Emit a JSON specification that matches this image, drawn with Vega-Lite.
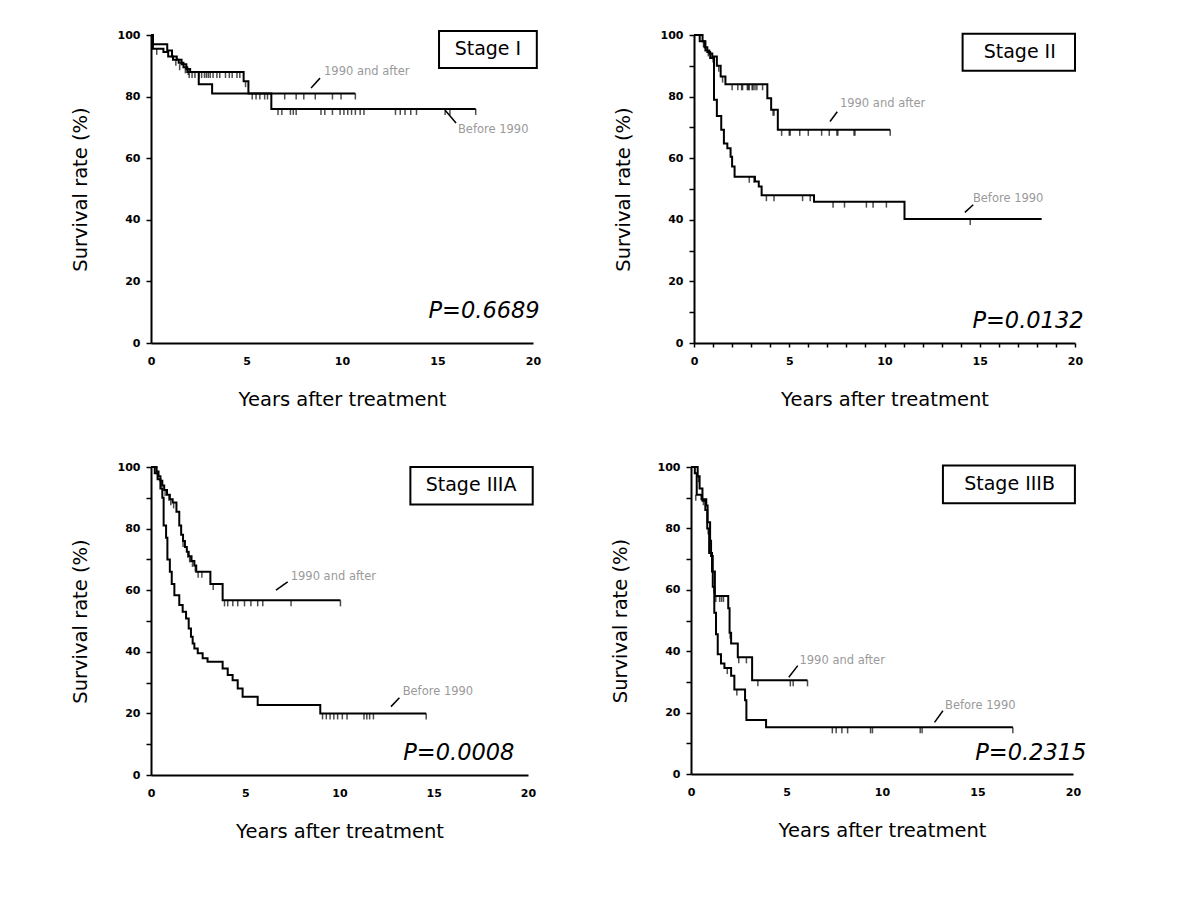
{
  "$schema": "https://vega.github.io/schema/vega-lite/v6.json",
  "background": "white",
  "padding": {"left": 70, "top": 29, "right": 5, "bottom": 5},
  "config": {
    "font": "DejaVu Sans",
    "view": {"stroke": null},
    "axis": {
      "grid": false,
      "domainColor": "black",
      "domainWidth": 2,
      "tickColor": "black",
      "tickWidth": 1.5,
      "labelFont": "DejaVu Sans",
      "labelFontWeight": "bold",
      "labelFontSize": 11,
      "labelColor": "black",
      "labelFlush": false,
      "titleFont": "DejaVu Sans",
      "titleFontSize": 19.5,
      "titleFontWeight": "normal",
      "titleColor": "black"
    }
  },
  "datasets": {
    "curves": [
      {"panel": "I", "group": "after", "t": 0, "s": 100},
      {"panel": "I", "group": "after", "t": 0.1, "s": 95.5},
      {"panel": "I", "group": "after", "t": 0.65, "s": 94.5},
      {"panel": "I", "group": "after", "t": 0.9, "s": 93},
      {"panel": "I", "group": "after", "t": 1.15, "s": 92},
      {"panel": "I", "group": "after", "t": 1.45, "s": 91},
      {"panel": "I", "group": "after", "t": 1.7, "s": 89.5},
      {"panel": "I", "group": "after", "t": 1.9, "s": 88},
      {"panel": "I", "group": "after", "t": 4.85, "s": 85},
      {"panel": "I", "group": "after", "t": 5.1, "s": 81},
      {"panel": "I", "group": "after", "t": 10.7, "s": 81},
      {"panel": "I", "group": "before", "t": 0, "s": 100},
      {"panel": "I", "group": "before", "t": 0.1, "s": 97},
      {"panel": "I", "group": "before", "t": 0.85, "s": 95},
      {"panel": "I", "group": "before", "t": 1.1, "s": 93},
      {"panel": "I", "group": "before", "t": 1.35, "s": 92},
      {"panel": "I", "group": "before", "t": 1.6, "s": 90.5},
      {"panel": "I", "group": "before", "t": 1.85, "s": 89},
      {"panel": "I", "group": "before", "t": 2.05, "s": 88},
      {"panel": "I", "group": "before", "t": 2.5, "s": 84},
      {"panel": "I", "group": "before", "t": 3.2, "s": 81},
      {"panel": "I", "group": "before", "t": 6.3, "s": 76},
      {"panel": "I", "group": "before", "t": 17.0, "s": 76},

      {"panel": "II", "group": "after", "t": 0, "s": 100},
      {"panel": "II", "group": "after", "t": 0.45, "s": 98},
      {"panel": "II", "group": "after", "t": 0.6, "s": 95},
      {"panel": "II", "group": "after", "t": 0.8, "s": 94},
      {"panel": "II", "group": "after", "t": 0.96, "s": 93},
      {"panel": "II", "group": "after", "t": 1.2, "s": 90},
      {"panel": "II", "group": "after", "t": 1.4, "s": 86.5},
      {"panel": "II", "group": "after", "t": 1.65, "s": 84},
      {"panel": "II", "group": "after", "t": 3.85, "s": 79.5},
      {"panel": "II", "group": "after", "t": 4.05, "s": 75.7},
      {"panel": "II", "group": "after", "t": 4.4, "s": 69.2},
      {"panel": "II", "group": "after", "t": 10.3, "s": 69.2},
      {"panel": "II", "group": "before", "t": 0, "s": 100},
      {"panel": "II", "group": "before", "t": 0.3, "s": 98},
      {"panel": "II", "group": "before", "t": 0.55, "s": 96},
      {"panel": "II", "group": "before", "t": 0.7, "s": 94.5},
      {"panel": "II", "group": "before", "t": 0.85, "s": 92.5},
      {"panel": "II", "group": "before", "t": 1.05, "s": 79},
      {"panel": "II", "group": "before", "t": 1.2, "s": 73.7},
      {"panel": "II", "group": "before", "t": 1.43, "s": 69.2},
      {"panel": "II", "group": "before", "t": 1.57, "s": 64.8},
      {"panel": "II", "group": "before", "t": 1.75, "s": 63.2},
      {"panel": "II", "group": "before", "t": 1.92, "s": 60.5},
      {"panel": "II", "group": "before", "t": 2.0, "s": 57.3},
      {"panel": "II", "group": "before", "t": 2.13, "s": 54},
      {"panel": "II", "group": "before", "t": 3.2, "s": 52.4},
      {"panel": "II", "group": "before", "t": 3.4, "s": 50.8},
      {"panel": "II", "group": "before", "t": 3.55, "s": 48},
      {"panel": "II", "group": "before", "t": 6.3, "s": 45.9},
      {"panel": "II", "group": "before", "t": 11.05, "s": 40.3},
      {"panel": "II", "group": "before", "t": 18.25, "s": 40.3},

      {"panel": "IIIA", "group": "after", "t": 0, "s": 100},
      {"panel": "IIIA", "group": "after", "t": 0.3, "s": 98.5},
      {"panel": "IIIA", "group": "after", "t": 0.4, "s": 97},
      {"panel": "IIIA", "group": "after", "t": 0.5, "s": 95.5},
      {"panel": "IIIA", "group": "after", "t": 0.6, "s": 94},
      {"panel": "IIIA", "group": "after", "t": 0.7, "s": 92.5},
      {"panel": "IIIA", "group": "after", "t": 0.85, "s": 91},
      {"panel": "IIIA", "group": "after", "t": 1.0, "s": 89.5},
      {"panel": "IIIA", "group": "after", "t": 1.15, "s": 88.5},
      {"panel": "IIIA", "group": "after", "t": 1.35, "s": 85.5},
      {"panel": "IIIA", "group": "after", "t": 1.5, "s": 81},
      {"panel": "IIIA", "group": "after", "t": 1.6, "s": 78},
      {"panel": "IIIA", "group": "after", "t": 1.7, "s": 76},
      {"panel": "IIIA", "group": "after", "t": 1.8, "s": 74},
      {"panel": "IIIA", "group": "after", "t": 1.9, "s": 72.5},
      {"panel": "IIIA", "group": "after", "t": 2.0, "s": 71},
      {"panel": "IIIA", "group": "after", "t": 2.15, "s": 69.5},
      {"panel": "IIIA", "group": "after", "t": 2.3, "s": 68},
      {"panel": "IIIA", "group": "after", "t": 2.4, "s": 66},
      {"panel": "IIIA", "group": "after", "t": 3.15, "s": 62},
      {"panel": "IIIA", "group": "after", "t": 3.8, "s": 56.7},
      {"panel": "IIIA", "group": "after", "t": 10.05, "s": 56.7},
      {"panel": "IIIA", "group": "before", "t": 0, "s": 100},
      {"panel": "IIIA", "group": "before", "t": 0.2, "s": 98},
      {"panel": "IIIA", "group": "before", "t": 0.35, "s": 96},
      {"panel": "IIIA", "group": "before", "t": 0.5, "s": 93},
      {"panel": "IIIA", "group": "before", "t": 0.6, "s": 90},
      {"panel": "IIIA", "group": "before", "t": 0.67, "s": 81},
      {"panel": "IIIA", "group": "before", "t": 0.8, "s": 77},
      {"panel": "IIIA", "group": "before", "t": 0.87, "s": 70},
      {"panel": "IIIA", "group": "before", "t": 1.0, "s": 66},
      {"panel": "IIIA", "group": "before", "t": 1.1, "s": 62},
      {"panel": "IIIA", "group": "before", "t": 1.24, "s": 58.4},
      {"panel": "IIIA", "group": "before", "t": 1.5, "s": 55.2},
      {"panel": "IIIA", "group": "before", "t": 1.68, "s": 53},
      {"panel": "IIIA", "group": "before", "t": 1.86, "s": 50.8},
      {"panel": "IIIA", "group": "before", "t": 2.0, "s": 47.6},
      {"panel": "IIIA", "group": "before", "t": 2.12, "s": 44.9},
      {"panel": "IIIA", "group": "before", "t": 2.21, "s": 42.7},
      {"panel": "IIIA", "group": "before", "t": 2.3, "s": 41.1},
      {"panel": "IIIA", "group": "before", "t": 2.48, "s": 39.5},
      {"panel": "IIIA", "group": "before", "t": 2.74, "s": 37.9},
      {"panel": "IIIA", "group": "before", "t": 3.0, "s": 36.8},
      {"panel": "IIIA", "group": "before", "t": 3.8, "s": 34.6},
      {"panel": "IIIA", "group": "before", "t": 4.07, "s": 32.5},
      {"panel": "IIIA", "group": "before", "t": 4.33, "s": 30.8},
      {"panel": "IIIA", "group": "before", "t": 4.6, "s": 28.1},
      {"panel": "IIIA", "group": "before", "t": 4.86, "s": 25.4},
      {"panel": "IIIA", "group": "before", "t": 5.66, "s": 22.7},
      {"panel": "IIIA", "group": "before", "t": 8.98, "s": 20},
      {"panel": "IIIA", "group": "before", "t": 14.6, "s": 20},

      {"panel": "IIIB", "group": "after", "t": 0, "s": 100},
      {"panel": "IIIB", "group": "after", "t": 0.35, "s": 97},
      {"panel": "IIIB", "group": "after", "t": 0.45, "s": 93},
      {"panel": "IIIB", "group": "after", "t": 0.6, "s": 89},
      {"panel": "IIIB", "group": "after", "t": 0.75, "s": 86},
      {"panel": "IIIB", "group": "after", "t": 0.85, "s": 80},
      {"panel": "IIIB", "group": "after", "t": 0.95, "s": 72},
      {"panel": "IIIB", "group": "after", "t": 1.1, "s": 66},
      {"panel": "IIIB", "group": "after", "t": 1.25, "s": 58},
      {"panel": "IIIB", "group": "after", "t": 1.95, "s": 54},
      {"panel": "IIIB", "group": "after", "t": 2.02, "s": 46},
      {"panel": "IIIB", "group": "after", "t": 2.1, "s": 42.5},
      {"panel": "IIIB", "group": "after", "t": 2.45, "s": 38},
      {"panel": "IIIB", "group": "after", "t": 3.2, "s": 30.5},
      {"panel": "IIIB", "group": "after", "t": 6.1, "s": 30.5},
      {"panel": "IIIB", "group": "before", "t": 0, "s": 100},
      {"panel": "IIIB", "group": "before", "t": 0.2, "s": 98},
      {"panel": "IIIB", "group": "before", "t": 0.3, "s": 91},
      {"panel": "IIIB", "group": "before", "t": 0.55, "s": 89.5},
      {"panel": "IIIB", "group": "before", "t": 0.8, "s": 87.5},
      {"panel": "IIIB", "group": "before", "t": 0.87, "s": 82},
      {"panel": "IIIB", "group": "before", "t": 1.0, "s": 76},
      {"panel": "IIIB", "group": "before", "t": 1.05, "s": 71},
      {"panel": "IIIB", "group": "before", "t": 1.14, "s": 61},
      {"panel": "IIIB", "group": "before", "t": 1.22, "s": 52.5},
      {"panel": "IIIB", "group": "before", "t": 1.31, "s": 45.5},
      {"panel": "IIIB", "group": "before", "t": 1.4, "s": 39},
      {"panel": "IIIB", "group": "before", "t": 1.57, "s": 36},
      {"panel": "IIIB", "group": "before", "t": 1.75, "s": 34.5},
      {"panel": "IIIB", "group": "before", "t": 2.1, "s": 32},
      {"panel": "IIIB", "group": "before", "t": 2.27, "s": 27.5},
      {"panel": "IIIB", "group": "before", "t": 2.83, "s": 24},
      {"panel": "IIIB", "group": "before", "t": 2.9, "s": 17.6},
      {"panel": "IIIB", "group": "before", "t": 3.93, "s": 15.2},
      {"panel": "IIIB", "group": "before", "t": 16.85, "s": 15.2}
    ],
    "censors": [
      {"panel": "I", "t": 0.3, "s": 95.5},
      {"panel": "I", "t": 1.3, "s": 92},
      {"panel": "I", "t": 1.8, "s": 89.5},
      {"panel": "I", "t": 2.0, "s": 88},
      {"panel": "I", "t": 2.15, "s": 88},
      {"panel": "I", "t": 2.3, "s": 88},
      {"panel": "I", "t": 2.5, "s": 88},
      {"panel": "I", "t": 2.65, "s": 88},
      {"panel": "I", "t": 2.8, "s": 88},
      {"panel": "I", "t": 2.9, "s": 88},
      {"panel": "I", "t": 3.0, "s": 88},
      {"panel": "I", "t": 3.1, "s": 88},
      {"panel": "I", "t": 3.25, "s": 88},
      {"panel": "I", "t": 3.45, "s": 88},
      {"panel": "I", "t": 3.6, "s": 88},
      {"panel": "I", "t": 3.9, "s": 88},
      {"panel": "I", "t": 4.1, "s": 88},
      {"panel": "I", "t": 4.25, "s": 88},
      {"panel": "I", "t": 4.5, "s": 88},
      {"panel": "I", "t": 4.65, "s": 88},
      {"panel": "I", "t": 4.95, "s": 85},
      {"panel": "I", "t": 5.3, "s": 81},
      {"panel": "I", "t": 5.5, "s": 81},
      {"panel": "I", "t": 5.7, "s": 81},
      {"panel": "I", "t": 5.95, "s": 81},
      {"panel": "I", "t": 6.1, "s": 81},
      {"panel": "I", "t": 7.0, "s": 81},
      {"panel": "I", "t": 7.6, "s": 81},
      {"panel": "I", "t": 8.0, "s": 81},
      {"panel": "I", "t": 8.6, "s": 81},
      {"panel": "I", "t": 9.5, "s": 81},
      {"panel": "I", "t": 9.95, "s": 81},
      {"panel": "I", "t": 10.7, "s": 81},
      {"panel": "I", "t": 1.5, "s": 90.5},
      {"panel": "I", "t": 1.95, "s": 89},
      {"panel": "I", "t": 6.65, "s": 76},
      {"panel": "I", "t": 6.85, "s": 76},
      {"panel": "I", "t": 7.3, "s": 76},
      {"panel": "I", "t": 7.45, "s": 76},
      {"panel": "I", "t": 7.6, "s": 76},
      {"panel": "I", "t": 8.9, "s": 76},
      {"panel": "I", "t": 9.1, "s": 76},
      {"panel": "I", "t": 9.5, "s": 76},
      {"panel": "I", "t": 9.9, "s": 76},
      {"panel": "I", "t": 10.1, "s": 76},
      {"panel": "I", "t": 10.3, "s": 76},
      {"panel": "I", "t": 10.5, "s": 76},
      {"panel": "I", "t": 10.7, "s": 76},
      {"panel": "I", "t": 10.95, "s": 76},
      {"panel": "I", "t": 11.15, "s": 76},
      {"panel": "I", "t": 12.8, "s": 76},
      {"panel": "I", "t": 13.05, "s": 76},
      {"panel": "I", "t": 13.3, "s": 76},
      {"panel": "I", "t": 13.6, "s": 76},
      {"panel": "I", "t": 13.9, "s": 76},
      {"panel": "I", "t": 15.4, "s": 76},
      {"panel": "I", "t": 15.65, "s": 76},
      {"panel": "I", "t": 17.0, "s": 76},

      {"panel": "II", "t": 0.5, "s": 98},
      {"panel": "II", "t": 0.75, "s": 95},
      {"panel": "II", "t": 1.0, "s": 93},
      {"panel": "II", "t": 1.3, "s": 90},
      {"panel": "II", "t": 1.5, "s": 86.5},
      {"panel": "II", "t": 2.0, "s": 84},
      {"panel": "II", "t": 2.3, "s": 84},
      {"panel": "II", "t": 2.5, "s": 84},
      {"panel": "II", "t": 2.55, "s": 84},
      {"panel": "II", "t": 2.8, "s": 84},
      {"panel": "II", "t": 2.85, "s": 84},
      {"panel": "II", "t": 2.9, "s": 84},
      {"panel": "II", "t": 3.05, "s": 84},
      {"panel": "II", "t": 3.1, "s": 84},
      {"panel": "II", "t": 3.2, "s": 84},
      {"panel": "II", "t": 3.3, "s": 84},
      {"panel": "II", "t": 3.6, "s": 84},
      {"panel": "II", "t": 4.15, "s": 75.7},
      {"panel": "II", "t": 4.2, "s": 75.7},
      {"panel": "II", "t": 4.6, "s": 69.2},
      {"panel": "II", "t": 5.0, "s": 69.2},
      {"panel": "II", "t": 5.05, "s": 69.2},
      {"panel": "II", "t": 5.55, "s": 69.2},
      {"panel": "II", "t": 6.0, "s": 69.2},
      {"panel": "II", "t": 6.7, "s": 69.2},
      {"panel": "II", "t": 7.1, "s": 69.2},
      {"panel": "II", "t": 7.5, "s": 69.2},
      {"panel": "II", "t": 7.55, "s": 69.2},
      {"panel": "II", "t": 8.4, "s": 69.2},
      {"panel": "II", "t": 8.45, "s": 69.2},
      {"panel": "II", "t": 10.3, "s": 69.2},
      {"panel": "II", "t": 2.9, "s": 54},
      {"panel": "II", "t": 3.15, "s": 54},
      {"panel": "II", "t": 3.8, "s": 48},
      {"panel": "II", "t": 4.2, "s": 48},
      {"panel": "II", "t": 5.7, "s": 48},
      {"panel": "II", "t": 6.1, "s": 48},
      {"panel": "II", "t": 7.3, "s": 45.9},
      {"panel": "II", "t": 7.9, "s": 45.9},
      {"panel": "II", "t": 9.05, "s": 45.9},
      {"panel": "II", "t": 9.4, "s": 45.9},
      {"panel": "II", "t": 10.1, "s": 45.9},
      {"panel": "II", "t": 14.5, "s": 40.3},

      {"panel": "IIIA", "t": 0.35, "s": 98.5},
      {"panel": "IIIA", "t": 0.55, "s": 95.5},
      {"panel": "IIIA", "t": 0.75, "s": 92.5},
      {"panel": "IIIA", "t": 0.95, "s": 91},
      {"panel": "IIIA", "t": 1.05, "s": 89.5},
      {"panel": "IIIA", "t": 1.2, "s": 88.5},
      {"panel": "IIIA", "t": 1.7, "s": 76},
      {"panel": "IIIA", "t": 1.95, "s": 72.5},
      {"panel": "IIIA", "t": 2.05, "s": 71},
      {"panel": "IIIA", "t": 2.1, "s": 71},
      {"panel": "IIIA", "t": 2.2, "s": 69.5},
      {"panel": "IIIA", "t": 2.35, "s": 68},
      {"panel": "IIIA", "t": 2.5, "s": 66},
      {"panel": "IIIA", "t": 2.7, "s": 66},
      {"panel": "IIIA", "t": 3.3, "s": 62},
      {"panel": "IIIA", "t": 3.9, "s": 56.7},
      {"panel": "IIIA", "t": 4.07, "s": 56.7},
      {"panel": "IIIA", "t": 4.34, "s": 56.7},
      {"panel": "IIIA", "t": 4.6, "s": 56.7},
      {"panel": "IIIA", "t": 4.96, "s": 56.7},
      {"panel": "IIIA", "t": 5.3, "s": 56.7},
      {"panel": "IIIA", "t": 5.66, "s": 56.7},
      {"panel": "IIIA", "t": 5.93, "s": 56.7},
      {"panel": "IIIA", "t": 7.43, "s": 56.7},
      {"panel": "IIIA", "t": 10.05, "s": 56.7},
      {"panel": "IIIA", "t": 9.1, "s": 20},
      {"panel": "IIIA", "t": 9.3, "s": 20},
      {"panel": "IIIA", "t": 9.5, "s": 20},
      {"panel": "IIIA", "t": 9.7, "s": 20},
      {"panel": "IIIA", "t": 9.9, "s": 20},
      {"panel": "IIIA", "t": 10.15, "s": 20},
      {"panel": "IIIA", "t": 10.4, "s": 20},
      {"panel": "IIIA", "t": 11.3, "s": 20},
      {"panel": "IIIA", "t": 11.45, "s": 20},
      {"panel": "IIIA", "t": 11.6, "s": 20},
      {"panel": "IIIA", "t": 11.8, "s": 20},
      {"panel": "IIIA", "t": 14.6, "s": 20},

      {"panel": "IIIB", "t": 0.4, "s": 97},
      {"panel": "IIIB", "t": 0.9, "s": 80},
      {"panel": "IIIB", "t": 1.3, "s": 58},
      {"panel": "IIIB", "t": 1.5, "s": 58},
      {"panel": "IIIB", "t": 1.6, "s": 58},
      {"panel": "IIIB", "t": 1.7, "s": 58},
      {"panel": "IIIB", "t": 2.05, "s": 46},
      {"panel": "IIIB", "t": 2.5, "s": 38},
      {"panel": "IIIB", "t": 2.9, "s": 38},
      {"panel": "IIIB", "t": 3.5, "s": 30.5},
      {"panel": "IIIB", "t": 5.2, "s": 30.5},
      {"panel": "IIIB", "t": 5.35, "s": 30.5},
      {"panel": "IIIB", "t": 6.1, "s": 30.5},
      {"panel": "IIIB", "t": 0.25, "s": 91},
      {"panel": "IIIB", "t": 0.65, "s": 89.5},
      {"panel": "IIIB", "t": 1.1, "s": 71},
      {"panel": "IIIB", "t": 1.2, "s": 61},
      {"panel": "IIIB", "t": 1.9, "s": 34.5},
      {"panel": "IIIB", "t": 2.4, "s": 27.5},
      {"panel": "IIIB", "t": 7.4, "s": 15.2},
      {"panel": "IIIB", "t": 7.6, "s": 15.2},
      {"panel": "IIIB", "t": 7.9, "s": 15.2},
      {"panel": "IIIB", "t": 8.2, "s": 15.2},
      {"panel": "IIIB", "t": 9.4, "s": 15.2},
      {"panel": "IIIB", "t": 9.5, "s": 15.2},
      {"panel": "IIIB", "t": 12.0, "s": 15.2},
      {"panel": "IIIB", "t": 12.1, "s": 15.2},
      {"panel": "IIIB", "t": 16.85, "s": 15.2}
    ],
    "notes": [
      {"panel": "I", "kind": "box", "label": "", "t": 15.08, "s": 101.3, "t2": 20.2, "s2": 89.3},
      {"panel": "I", "kind": "stage", "label": "Stage I", "t": 17.64, "s": 95.3},
      {"panel": "I", "kind": "p", "label": "P=0.6689", "t": 20.35, "s": 10.4},
      {"panel": "I", "kind": "lbl", "label": "1990 and after", "t": 9.06, "s": 88},
      {"panel": "I", "kind": "lbl", "label": "Before 1990", "t": 16.07, "s": 69},
      {"panel": "I", "kind": "leader", "label": "", "t": 8.38, "s": 82.8, "t2": 8.85, "s2": 86},
      {"panel": "I", "kind": "leader", "label": "", "t": 15.4, "s": 75.6, "t2": 15.97, "s2": 71.4},

      {"panel": "II", "kind": "box", "label": "", "t": 14.1, "s": 100.4, "t2": 20.0, "s2": 88.4},
      {"panel": "II", "kind": "stage", "label": "Stage II", "t": 17.1, "s": 94.5},
      {"panel": "II", "kind": "p", "label": "P=0.0132", "t": 20.45, "s": 7.0},
      {"panel": "II", "kind": "lbl", "label": "1990 and after", "t": 7.66, "s": 77.6},
      {"panel": "II", "kind": "lbl", "label": "Before 1990", "t": 14.64, "s": 46.7},
      {"panel": "II", "kind": "leader", "label": "", "t": 7.14, "s": 71.9, "t2": 7.52, "s2": 75.1},
      {"panel": "II", "kind": "leader", "label": "", "t": 14.22, "s": 42.4, "t2": 14.66, "s2": 44.9},

      {"panel": "IIIA", "kind": "box", "label": "", "t": 13.76, "s": 100, "t2": 20.25, "s2": 87.8},
      {"panel": "IIIA", "kind": "stage", "label": "Stage IIIA", "t": 16.98, "s": 94},
      {"panel": "IIIA", "kind": "p", "label": "P=0.0008", "t": 19.28, "s": 7.0},
      {"panel": "IIIA", "kind": "lbl", "label": "1990 and after", "t": 7.41, "s": 64.3},
      {"panel": "IIIA", "kind": "lbl", "label": "Before 1990", "t": 13.35, "s": 27},
      {"panel": "IIIA", "kind": "leader", "label": "", "t": 6.63, "s": 60, "t2": 7.25, "s2": 62.7},
      {"panel": "IIIA", "kind": "leader", "label": "", "t": 12.73, "s": 22.2, "t2": 13.18, "s2": 25.1},

      {"panel": "IIIB", "kind": "box", "label": "", "t": 13.19, "s": 100.5, "t2": 20.1, "s2": 88.2},
      {"panel": "IIIB", "kind": "stage", "label": "Stage IIIB", "t": 16.68, "s": 94.5},
      {"panel": "IIIB", "kind": "p", "label": "P=0.2315", "t": 20.7, "s": 7.0},
      {"panel": "IIIB", "kind": "lbl", "label": "1990 and after", "t": 5.68, "s": 36.7},
      {"panel": "IIIB", "kind": "lbl", "label": "Before 1990", "t": 13.3, "s": 22.3},
      {"panel": "IIIB", "kind": "leader", "label": "", "t": 5.12, "s": 31.5, "t2": 5.59, "s2": 35.3},
      {"panel": "IIIB", "kind": "leader", "label": "", "t": 12.75, "s": 16.8, "t2": 13.19, "s2": 20.6}
    ]
  },
  "spacing": 52,
  "vconcat": [
    {
      "bounds": "flush",
      "spacing": 161,
      "hconcat": [
        {
          "width": 382, "height": 308,
          "encoding": {
            "x": {"field": "t", "type": "quantitative", "scale": {"domain": [0, 20], "nice": false},
                  "axis": {"title": "Years after treatment", "values": [0, 5, 10, 15, 20], "tickSize": 0, "labelPadding": 12, "titlePadding": 24}},
            "y": {"field": "s", "type": "quantitative", "scale": {"domain": [0, 100], "nice": false},
                  "axis": {"title": "Survival rate (%)", "values": [0, 20, 40, 60, 80, 100], "tickSize": 5, "labelPadding": 6, "titlePadding": 27}}
          },
          "layer": [
            {"data": {"name": "curves"}, "transform": [{"filter": "datum.panel == 'I'"}],
             "mark": {"type": "line", "interpolate": "step-after", "color": "black", "strokeWidth": 2},
             "encoding": {"detail": {"field": "group"}}},
            {"data": {"name": "censors"}, "transform": [{"filter": "datum.panel == 'I'"}],
             "mark": {"type": "tick", "orient": "vertical", "size": 6, "thickness": 1.5, "color": "black", "yOffset": 3}},
            {"data": {"name": "notes"}, "transform": [{"filter": "datum.panel == 'I' && datum.kind == 'box'"}],
             "mark": {"type": "rect", "fill": "white", "stroke": "black", "strokeWidth": 2},
             "encoding": {"x2": {"field": "t2"}, "y2": {"field": "s2"}}},
            {"data": {"name": "notes"}, "transform": [{"filter": "datum.panel == 'I' && datum.kind == 'leader'"}],
             "mark": {"type": "rule", "color": "black", "strokeWidth": 1.5},
             "encoding": {"x2": {"field": "t2"}, "y2": {"field": "s2"}}},
            {"data": {"name": "notes"}, "transform": [{"filter": "datum.panel == 'I' && datum.kind == 'stage'"}],
             "mark": {"type": "text", "align": "center", "baseline": "middle", "fontSize": 19, "color": "black"},
             "encoding": {"text": {"field": "label"}}},
            {"data": {"name": "notes"}, "transform": [{"filter": "datum.panel == 'I' && datum.kind == 'p'"}],
             "mark": {"type": "text", "align": "right", "baseline": "middle", "fontSize": 22.5, "fontStyle": "italic", "color": "black"},
             "encoding": {"text": {"field": "label"}}},
            {"data": {"name": "notes"}, "transform": [{"filter": "datum.panel == 'I' && datum.kind == 'lbl'"}],
             "mark": {"type": "text", "align": "left", "baseline": "middle", "fontSize": 11.5, "color": "#9a9a9a"},
             "encoding": {"text": {"field": "label"}}}
          ]
        },
        {
          "width": 381, "height": 308,
          "encoding": {
            "x": {"field": "t", "type": "quantitative", "scale": {"domain": [0, 20], "nice": false},
                  "axis": {"title": "Years after treatment", "values": [0, 1, 2, 3, 4, 5, 6, 7, 8, 9, 10, 11, 12, 13, 14, 15, 16, 17, 18, 19, 20], "labelExpr": "datum.value % 5 == 0 ? datum.label : ''", "tickSize": 4, "labelPadding": 8, "titlePadding": 24}},
            "y": {"field": "s", "type": "quantitative", "scale": {"domain": [0, 100], "nice": false},
                  "axis": {"title": "Survival rate (%)", "values": [0, 10, 20, 30, 40, 50, 60, 70, 80, 90, 100], "labelExpr": "datum.value % 20 == 0 ? datum.label : ''", "tickSize": 5, "labelPadding": 6, "titlePadding": 27}}
          },
          "layer": [
            {"data": {"name": "curves"}, "transform": [{"filter": "datum.panel == 'II'"}],
             "mark": {"type": "line", "interpolate": "step-after", "color": "black", "strokeWidth": 2},
             "encoding": {"detail": {"field": "group"}}},
            {"data": {"name": "censors"}, "transform": [{"filter": "datum.panel == 'II'"}],
             "mark": {"type": "tick", "orient": "vertical", "size": 6, "thickness": 1.5, "color": "black", "yOffset": 3}},
            {"data": {"name": "notes"}, "transform": [{"filter": "datum.panel == 'II' && datum.kind == 'box'"}],
             "mark": {"type": "rect", "fill": "white", "stroke": "black", "strokeWidth": 2},
             "encoding": {"x2": {"field": "t2"}, "y2": {"field": "s2"}}},
            {"data": {"name": "notes"}, "transform": [{"filter": "datum.panel == 'II' && datum.kind == 'leader'"}],
             "mark": {"type": "rule", "color": "black", "strokeWidth": 1.5},
             "encoding": {"x2": {"field": "t2"}, "y2": {"field": "s2"}}},
            {"data": {"name": "notes"}, "transform": [{"filter": "datum.panel == 'II' && datum.kind == 'stage'"}],
             "mark": {"type": "text", "align": "center", "baseline": "middle", "fontSize": 19, "color": "black"},
             "encoding": {"text": {"field": "label"}}},
            {"data": {"name": "notes"}, "transform": [{"filter": "datum.panel == 'II' && datum.kind == 'p'"}],
             "mark": {"type": "text", "align": "right", "baseline": "middle", "fontSize": 22.5, "fontStyle": "italic", "color": "black"},
             "encoding": {"text": {"field": "label"}}},
            {"data": {"name": "notes"}, "transform": [{"filter": "datum.panel == 'II' && datum.kind == 'lbl'"}],
             "mark": {"type": "text", "align": "left", "baseline": "middle", "fontSize": 11.5, "color": "#9a9a9a"},
             "encoding": {"text": {"field": "label"}}}
          ]
        }
      ]
    },
    {
      "bounds": "flush",
      "spacing": 163,
      "hconcat": [
        {
          "width": 377, "height": 308,
          "encoding": {
            "x": {"field": "t", "type": "quantitative", "scale": {"domain": [0, 20], "nice": false},
                  "axis": {"title": "Years after treatment", "values": [0, 5, 10, 15, 20], "tickSize": 0, "labelPadding": 12, "titlePadding": 24}},
            "y": {"field": "s", "type": "quantitative", "scale": {"domain": [0, 100], "nice": false},
                  "axis": {"title": "Survival rate (%)", "values": [0, 10, 20, 30, 40, 50, 60, 70, 80, 90, 100], "labelExpr": "datum.value % 20 == 0 ? datum.label : ''", "tickSize": 5, "labelPadding": 6, "titlePadding": 27}}
          },
          "layer": [
            {"data": {"name": "curves"}, "transform": [{"filter": "datum.panel == 'IIIA'"}],
             "mark": {"type": "line", "interpolate": "step-after", "color": "black", "strokeWidth": 2},
             "encoding": {"detail": {"field": "group"}}},
            {"data": {"name": "censors"}, "transform": [{"filter": "datum.panel == 'IIIA'"}],
             "mark": {"type": "tick", "orient": "vertical", "size": 6, "thickness": 1.5, "color": "black", "yOffset": 3}},
            {"data": {"name": "notes"}, "transform": [{"filter": "datum.panel == 'IIIA' && datum.kind == 'box'"}],
             "mark": {"type": "rect", "fill": "white", "stroke": "black", "strokeWidth": 2},
             "encoding": {"x2": {"field": "t2"}, "y2": {"field": "s2"}}},
            {"data": {"name": "notes"}, "transform": [{"filter": "datum.panel == 'IIIA' && datum.kind == 'leader'"}],
             "mark": {"type": "rule", "color": "black", "strokeWidth": 1.5},
             "encoding": {"x2": {"field": "t2"}, "y2": {"field": "s2"}}},
            {"data": {"name": "notes"}, "transform": [{"filter": "datum.panel == 'IIIA' && datum.kind == 'stage'"}],
             "mark": {"type": "text", "align": "center", "baseline": "middle", "fontSize": 19, "color": "black"},
             "encoding": {"text": {"field": "label"}}},
            {"data": {"name": "notes"}, "transform": [{"filter": "datum.panel == 'IIIA' && datum.kind == 'p'"}],
             "mark": {"type": "text", "align": "right", "baseline": "middle", "fontSize": 22.5, "fontStyle": "italic", "color": "black"},
             "encoding": {"text": {"field": "label"}}},
            {"data": {"name": "notes"}, "transform": [{"filter": "datum.panel == 'IIIA' && datum.kind == 'lbl'"}],
             "mark": {"type": "text", "align": "left", "baseline": "middle", "fontSize": 11.5, "color": "#9a9a9a"},
             "encoding": {"text": {"field": "label"}}}
          ]
        },
        {
          "width": 382, "height": 307,
          "encoding": {
            "x": {"field": "t", "type": "quantitative", "scale": {"domain": [0, 20], "nice": false},
                  "axis": {"title": "Years after treatment", "values": [0, 5, 10, 15, 20], "tickSize": 0, "labelPadding": 12, "titlePadding": 24}},
            "y": {"field": "s", "type": "quantitative", "scale": {"domain": [0, 100], "nice": false},
                  "axis": {"title": "Survival rate (%)", "values": [0, 10, 20, 30, 40, 50, 60, 70, 80, 90, 100], "labelExpr": "datum.value % 20 == 0 ? datum.label : ''", "tickSize": 5, "labelPadding": 6, "titlePadding": 27}}
          },
          "layer": [
            {"data": {"name": "curves"}, "transform": [{"filter": "datum.panel == 'IIIB'"}],
             "mark": {"type": "line", "interpolate": "step-after", "color": "black", "strokeWidth": 2},
             "encoding": {"detail": {"field": "group"}}},
            {"data": {"name": "censors"}, "transform": [{"filter": "datum.panel == 'IIIB'"}],
             "mark": {"type": "tick", "orient": "vertical", "size": 6, "thickness": 1.5, "color": "black", "yOffset": 3}},
            {"data": {"name": "notes"}, "transform": [{"filter": "datum.panel == 'IIIB' && datum.kind == 'box'"}],
             "mark": {"type": "rect", "fill": "white", "stroke": "black", "strokeWidth": 2},
             "encoding": {"x2": {"field": "t2"}, "y2": {"field": "s2"}}},
            {"data": {"name": "notes"}, "transform": [{"filter": "datum.panel == 'IIIB' && datum.kind == 'leader'"}],
             "mark": {"type": "rule", "color": "black", "strokeWidth": 1.5},
             "encoding": {"x2": {"field": "t2"}, "y2": {"field": "s2"}}},
            {"data": {"name": "notes"}, "transform": [{"filter": "datum.panel == 'IIIB' && datum.kind == 'stage'"}],
             "mark": {"type": "text", "align": "center", "baseline": "middle", "fontSize": 19, "color": "black"},
             "encoding": {"text": {"field": "label"}}},
            {"data": {"name": "notes"}, "transform": [{"filter": "datum.panel == 'IIIB' && datum.kind == 'p'"}],
             "mark": {"type": "text", "align": "right", "baseline": "middle", "fontSize": 22.5, "fontStyle": "italic", "color": "black"},
             "encoding": {"text": {"field": "label"}}},
            {"data": {"name": "notes"}, "transform": [{"filter": "datum.panel == 'IIIB' && datum.kind == 'lbl'"}],
             "mark": {"type": "text", "align": "left", "baseline": "middle", "fontSize": 11.5, "color": "#9a9a9a"},
             "encoding": {"text": {"field": "label"}}}
          ]
        }
      ]
    }
  ]
}
